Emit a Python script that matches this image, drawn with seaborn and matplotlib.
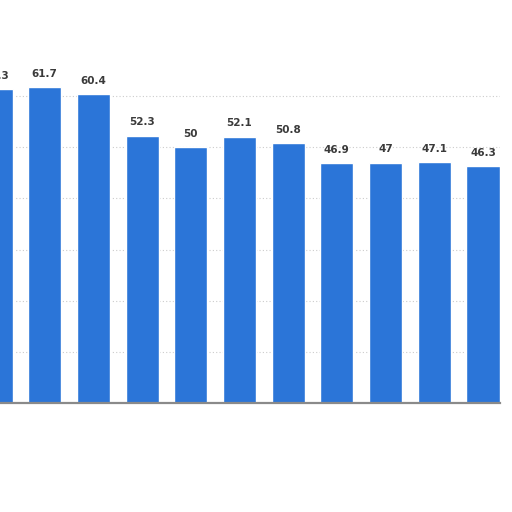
import matplotlib.pyplot as plt
import pandas as pd
import seaborn as sns

# --- data (left bars are blurred, estimated) ---
categories = ['c1', 'c2', 'c3', 'c4', 'c5', 'c6', 'c7', 'c8', 'c9', 'c10', 'c11']
values = [61.3, 61.7, 60.4, 52.3, 50, 52.1, 50.8, 46.9, 47, 47.1, 46.3]
value_labels = ['61.3', '61.7', '60.4', '52.3', '50', '52.1', '50.8', '46.9', '47', '47.1', '46.3']
y_ticks = [0, 10, 20, 30, 40, 50, 60]

sns.set_theme(style="white")
plt.rcParams['font.family'] = ['DejaVu Sans']

df = pd.DataFrame({'cat': categories, 'val': values})

fig = plt.figure(figsize=(5.12, 5.12), dpi=100)
W = H = 512.0
# axes placed in pixel terms: chart is cropped on the left
left_px, right_px = -30.8, 500.0
bottom_px, top_px = 403.0, 45.0
ax = fig.add_axes([left_px / W, 1 - bottom_px / H,
                   (right_px - left_px) / W, (bottom_px - top_px) / H])

sns.barplot(data=df, x='cat', y='val', color='#2b75d8', saturation=1,
            width=0.68, ax=ax, zorder=3)

ax.set_xlim(-0.55, 10.35)
ax.set_ylim(0, 70)
ax.set_yticks(y_ticks)
ax.yaxis.grid(True, color='#cccccc', linestyle=(0, (1, 2)), linewidth=0.8, zorder=0)
ax.set_yticklabels([])
ax.set_xticklabels([])
ax.tick_params(length=0)
ax.set_xlabel('')
ax.set_ylabel('')
for side in ['top', 'right', 'left']:
    ax.spines[side].set_visible(False)
ax.spines['bottom'].set_color('#8a8a8a')
ax.spines['bottom'].set_linewidth(1.6)
ax.spines['bottom'].set_zorder(4)

for bar, lab in zip(ax.patches, value_labels):
    ax.annotate(lab, (bar.get_x() + bar.get_width() / 2, bar.get_height()),
                xytext=(0, 6), textcoords='offset points', ha='center', va='bottom',
                fontsize=7.5, fontweight='bold', color='#3a3a3a')

fig.savefig('out.png', dpi=100)
